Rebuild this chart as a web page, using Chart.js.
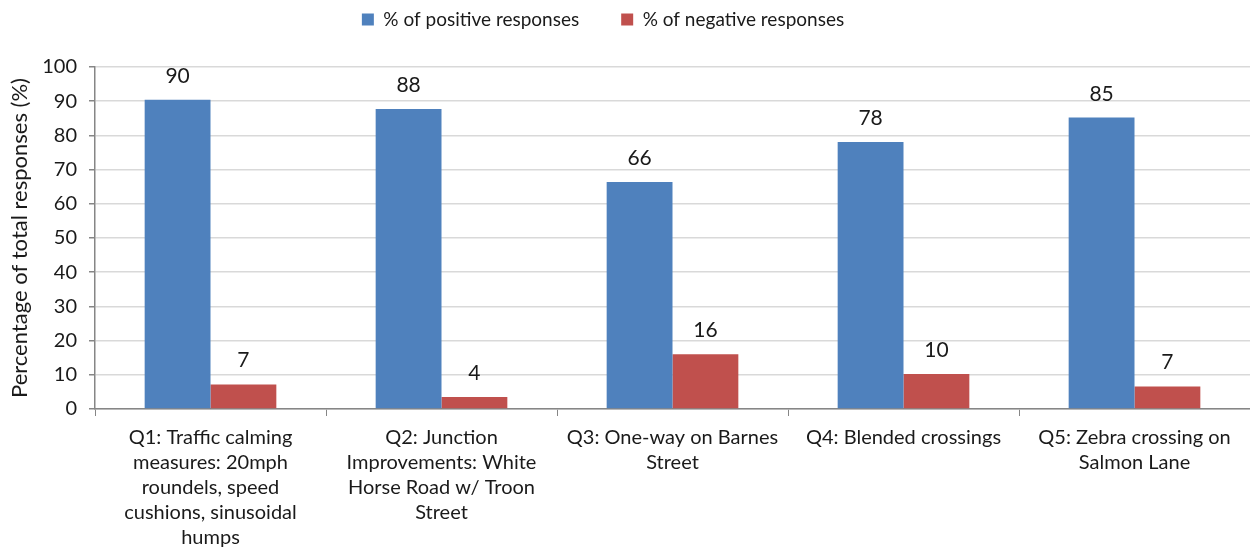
<!DOCTYPE html>
<html>
<head>
<meta charset="utf-8">
<script src="https://cdn.jsdelivr.net/npm/chart.js@4/dist/chart.umd.min.js"></script>
<style>
html,body{margin:0;padding:0;background:#fff;}
#wrap{width:1250px;height:551px;position:relative;}
</style>
</head>
<body>
<div id="wrap"><canvas id="c"></canvas></div>
<script>
const categories = [
  ["Q1: Traffic calming", "measures: 20mph", "roundels, speed", "cushions, sinusoidal", "humps"],
  ["Q2: Junction", "Improvements: White", "Horse Road w/ Troon", "Street"],
  ["Q3: One-way on Barnes", "Street"],
  ["Q4: Blended crossings"],
  ["Q5: Zebra crossing on", "Salmon Lane"]
];
const positiveValues = [90.4, 87.7, 66.4, 78.1, 85.2];
const negativeValues = [7.2, 3.5, 16.0, 10.2, 6.6];
const yTicks = [0, 10, 20, 30, 40, 50, 60, 70, 80, 90, 100];
const seriesNames = ["% of positive responses", "% of negative responses"];

const FONT = "Lato, 'DejaVu Sans', sans-serif";

const dataLabels = {
  id: 'dataLabels',
  afterDatasetsDraw(chart) {
    const ctx = chart.ctx;
    ctx.save();
    ctx.font = "21px " + FONT;
    ctx.fillStyle = "#1a1a1a";
    ctx.textAlign = "center";
    ctx.textBaseline = "alphabetic";
    chart.data.datasets.forEach((ds, i) => {
      const meta = chart.getDatasetMeta(i);
      meta.data.forEach((bar, j) => {
        ctx.fillText(String(Math.round(ds.data[j])), bar.x, bar.y - 17);
      });
    });
    ctx.restore();
  }
};

const legendFit = {
  id: 'legendFit',
  beforeLayout(chart) {
    const lg = chart.legend;
    if (lg && !lg._patched) {
      const f = lg.fit.bind(lg);
      lg.fit = function() { f(); this.height = 67; };
      lg._patched = true;
    }
  },
  afterLayout(chart) {
    const lg = chart.legend;
    if (lg) {
      lg.top = -32;
      lg.left -= 22;
      lg.right -= 22;
    }
  }
};

new Chart(document.getElementById('c'), {
  type: 'bar',
  data: {
    labels: categories,
    datasets: [
      { label: seriesNames[0], data: positiveValues, backgroundColor: '#4F81BD' },
      { label: seriesNames[1], data: negativeValues, backgroundColor: '#C0504D' }
    ]
  },
  options: {
    responsive: true,
    maintainAspectRatio: false,
    animation: false,
    layout: { padding: { left: 0, right: 0, top: 0, bottom: 0 } },
    datasets: { bar: { categoryPercentage: 0.57, barPercentage: 1.0 } },
    plugins: {
      tooltip: { enabled: false },
      legend: {
        position: 'top',
        labels: {
          boxWidth: 12, boxHeight: 12, padding: 42,
          color: '#1a1a1a',
          font: { family: FONT, size: 19 }
        }
      }
    },
    scales: {
      x: {
        grid: { drawOnChartArea: false, drawTicks: true, tickLength: 7, color: '#868686', offset: true },
        border: { color: '#868686', width: 1.5 },
        ticks: {
          color: '#1a1a1a', font: { family: FONT, size: 20, lineHeight: 1.25 },
          maxRotation: 0, autoSkip: false, padding: 9
        },
        afterFit(scale) { scale.height = 142; }
      },
      y: {
        min: 0, max: 100,
        afterBuildTicks(scale) { scale.ticks = yTicks.map(v => ({ value: v })); },
        grid: { color: '#d9d9d9', lineWidth: 1.5, drawTicks: true, tickLength: 6, tickColor: '#868686' },
        border: { color: '#868686', width: 1.5 },
        ticks: { color: '#1a1a1a', font: { family: FONT, size: 20 }, padding: 12 },
        title: { display: true, text: 'Percentage of total responses (%)', color: '#1a1a1a', font: { family: FONT, size: 22 }, padding: { top: 7, bottom: 0 } },
        afterFit(scale) { scale.width = 95; }
      }
    }
  },
  plugins: [dataLabels, legendFit]
});
</script>
</body>
</html>
